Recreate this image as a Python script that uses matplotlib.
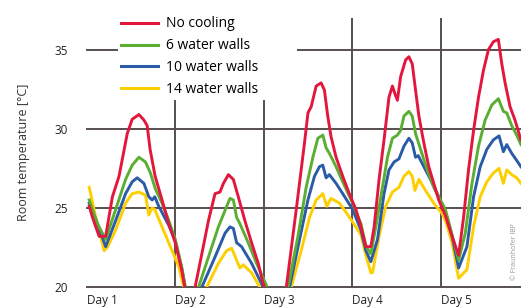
import matplotlib
matplotlib.use("Agg")
import matplotlib.pyplot as plt
from matplotlib.patches import Rectangle

plt.rcParams["font.family"] = ["Open Sans", "DejaVu Sans"]

# time in days (Day 1 = 1.0), temperature in degC
t_red = [1.025, 1.062, 1.137, 1.211, 1.287, 1.362, 1.455, 1.511, 1.587, 1.643, 1.680, 1.713,
         1.770, 1.848, 1.924, 1.998, 2.073, 2.12, 2.18, 2.222, 2.298, 2.373, 2.447, 2.503,
         2.542, 2.598, 2.654, 2.710, 2.784, 2.860, 2.935, 2.991, 3.08, 3.20, 3.253, 3.365,
         3.458, 3.497, 3.534, 3.590, 3.646, 3.683, 3.721, 3.758, 3.815, 3.890, 3.964, 4.039,
         4.096, 4.152, 4.208, 4.245, 4.301, 4.357, 4.413, 4.452, 4.481, 4.508, 4.545, 4.601,
         4.638, 4.676, 4.713, 4.751, 4.807, 4.863, 4.919, 4.975, 5.051, 5.126, 5.200, 5.256,
         5.312, 5.369, 5.425, 5.481, 5.537, 5.593, 5.649, 5.688, 5.725, 5.781, 5.837, 5.904]
no_cooling = [25.1, 24.4, 23.2, 23.2, 25.7, 27.0, 29.7, 30.6, 30.9, 30.55, 30.2, 28.7,
              27.0, 25.5, 24.0, 22.8, 21.0, 19.5, 19.0, 20.0, 22.1, 24.2, 25.9, 26.0,
              26.55, 27.1, 26.8, 25.7, 24.2, 22.8, 21.5, 20.2, 19.0, 19.2, 20.0, 24.9,
              29.1, 31.0, 31.4, 32.7, 32.9, 32.45, 30.8, 29.5, 28.2, 27.0, 25.9, 24.9,
              23.8, 22.55, 22.55, 23.8, 26.8, 29.3, 32.0, 32.7, 32.2, 31.8, 33.3, 34.35,
              34.55, 34.1, 32.45, 30.8, 29.1, 27.6, 26.55, 25.5, 24.5, 23.2, 22.0, 24.4,
              27.4, 29.9, 32.0, 33.7, 35.0, 35.5, 35.65, 34.1, 32.9, 31.4, 30.55, 29.3]

t_green = [1.025, 1.118, 1.211, 1.324, 1.436, 1.511, 1.587, 1.661, 1.717, 1.773, 1.848, 1.924,
           1.998, 2.073, 2.11, 2.18, 2.261, 2.373, 2.485, 2.579, 2.616, 2.654, 2.691, 2.728,
           2.822, 2.916, 3.028, 3.12, 3.22, 3.272, 3.384, 3.477, 3.553, 3.609, 3.665, 3.702,
           3.739, 3.815, 3.890, 4.002, 4.096, 4.152, 4.208, 4.264, 4.339, 4.396, 4.452, 4.508,
           4.545, 4.582, 4.638, 4.676, 4.713, 4.770, 4.845, 4.919, 4.994, 5.051, 5.126, 5.200,
           5.275, 5.351, 5.425, 5.500, 5.575, 5.649, 5.706, 5.744, 5.800, 5.856, 5.904]
water_walls_6 = [25.5, 24.0, 23.0, 24.9, 26.8, 27.7, 28.2, 27.9, 27.2, 26.2, 25.3, 24.2,
                 23.0, 21.2, 20.0, 19.0, 20.0, 21.9, 23.8, 25.1, 25.6, 25.5, 24.4, 24.0,
                 22.8, 21.5, 20.1, 19.0, 19.2, 20.0, 23.2, 26.3, 28.2, 29.4, 29.6, 28.8,
                 28.45, 27.6, 26.65, 25.3, 24.0, 22.6, 22.1, 23.8, 26.3, 28.2, 29.4, 29.6,
                 29.9, 30.8, 31.1, 30.8, 29.7, 28.7, 27.4, 26.3, 25.5, 24.9, 23.3, 21.7,
                 23.4, 26.55, 28.9, 30.55, 31.5, 31.9, 31.1, 31.0, 30.2, 29.6, 29.0]

t_blue = [1.025, 1.118, 1.211, 1.324, 1.436, 1.511, 1.567, 1.643, 1.699, 1.736, 1.766, 1.811,
          1.924, 1.998, 2.073, 2.11, 2.20, 2.298, 2.447, 2.560, 2.616, 2.654, 2.691, 2.747,
          2.860, 2.991, 3.10, 3.23, 3.290, 3.402, 3.497, 3.571, 3.627, 3.665, 3.702, 3.739,
          3.815, 3.890, 4.002, 4.096, 4.152, 4.208, 4.283, 4.357, 4.413, 4.470, 4.526, 4.582,
          4.638, 4.676, 4.713, 4.744, 4.807, 4.882, 4.975, 5.051, 5.126, 5.200, 5.294, 5.369,
          5.444, 5.519, 5.593, 5.657, 5.706, 5.744, 5.800, 5.856, 5.904]
water_walls_10 = [25.3, 24.0, 22.55, 24.2, 25.9, 26.65, 26.9, 26.55, 25.7, 25.5, 25.7, 25.1,
                  23.9, 22.9, 21.1, 20.0, 19.0, 20.0, 21.9, 23.4, 23.8, 23.7, 22.8, 22.55,
                  21.5, 20.0, 19.0, 19.2, 20.0, 23.0, 25.5, 27.0, 27.6, 27.7, 26.9, 27.1,
                  26.55, 25.9, 24.9, 23.6, 22.3, 21.6, 23.0, 25.9, 27.4, 27.9, 28.1, 28.9,
                  29.4, 29.1, 28.2, 28.3, 27.6, 26.8, 25.7, 24.65, 23.2, 21.2, 22.55, 25.7,
                  27.6, 28.7, 29.3, 29.55, 28.55, 29.0, 28.45, 28.0, 27.6]

t_yellow = [1.025, 1.099, 1.193, 1.23, 1.324, 1.436, 1.511, 1.587, 1.661, 1.699, 1.736, 1.766,
            1.848, 1.961, 2.036, 2.092, 2.22, 2.354, 2.485, 2.579, 2.635, 2.691, 2.728, 2.766,
            2.860, 2.953, 3.12, 3.309, 3.421, 3.515, 3.590, 3.665, 3.710, 3.758, 3.852, 3.93,
            4.039, 4.096, 4.152, 4.208, 4.227, 4.301, 4.376, 4.452, 4.526, 4.582, 4.638, 4.676,
            4.706, 4.751, 4.826, 4.919, 5.013, 5.051, 5.126, 5.200, 5.294, 5.369, 5.444, 5.519,
            5.593, 5.657, 5.706, 5.744, 5.800, 5.856, 5.904]
water_walls_14 = [26.3, 24.4, 22.3, 22.5, 23.6, 25.3, 25.9, 26.0, 25.8, 24.55, 25.0, 24.9,
                  23.8, 22.3, 21.3, 20.0, 19.0, 20.0, 21.5, 22.3, 22.45, 21.7, 21.2, 21.4,
                  20.9, 20.0, 19.0, 20.0, 22.3, 24.4, 25.5, 25.9, 25.1, 25.6, 25.3, 24.7,
                  23.8, 23.3, 22.0, 20.9, 20.9, 23.2, 25.1, 26.0, 26.3, 27.0, 27.3, 27.0,
                  26.1, 26.8, 26.1, 25.3, 24.65, 24.2, 22.8, 20.55, 21.1, 23.8, 25.7, 26.65,
                  27.2, 27.5, 26.55, 27.4, 27.1, 26.9, 26.55]

days = [1, 2, 3, 4, 5]
day_labels = ["Day 1", "Day 2", "Day 3", "Day 4", "Day 5"]
temp_ticks = [20, 25, 30, 35]

grid_color = "#574e4e"

fig = plt.figure(figsize=(5.21, 3.07), dpi=100)
ax = fig.add_axes([87 / 521, 20 / 307, 434 / 521, 269 / 307])

for d in days[1:]:
    ax.axvline(d, color=grid_color, lw=1.4, zorder=1)
for v in temp_ticks:
    ax.axhline(v, color=grid_color, lw=1.4, zorder=1, clip_on=False)

# white area behind the legend hides the top of the grid
ax.add_patch(Rectangle((0.071, 0.695), 0.413, 0.4, transform=ax.transAxes,
                       facecolor="white", edgecolor="none", zorder=2, clip_on=False))

ax.plot(t_red, no_cooling, color="#e3173e", lw=2.1, label="No cooling", zorder=6)
ax.plot(t_green, water_walls_6, color="#5aae32", lw=2.1, label="6 water walls", zorder=5)
ax.plot(t_blue, water_walls_10, color="#2b5ba6", lw=2.1, label="10 water walls", zorder=4)
ax.plot(t_yellow, water_walls_14, color="#fdcf00", lw=2.1, label="14 water walls", zorder=3)

ax.set_xlim(1.03, 5.905)
ax.set_ylim(20, 37.0)
for s in ax.spines.values():
    s.set_visible(False)

ax.set_xticks(days)
ax.set_xticklabels(day_labels, ha="left", fontsize=8.5, color="#222222")
ax.set_yticks(temp_ticks)
ax.set_yticklabels([str(v) for v in temp_ticks], fontsize=8.5, color="#222222")
ax.tick_params(axis="both", length=0)
ax.tick_params(axis="y", pad=14)
ax.tick_params(axis="x", pad=5)
ax.xaxis.get_ticklabels()[0].set_x(1.03)
ax.set_ylabel("Room temperature [°C]", fontsize=9, color="#333333", labelpad=17)

leg = fig.legend(loc="upper left", bbox_to_anchor=(111 / 521, 1 - 6 / 307),
                 frameon=False, fontsize=10, handlelength=2.6, handletextpad=0.6,
                 labelspacing=0.5, borderpad=0.25)
for line in leg.get_lines():
    line.set_linewidth(2.2)

fig.text(515 / 521, 1 - 252 / 307, "© Fraunhofer IBP", rotation=90, fontsize=5,
         color="#999999", ha="center", va="center")

fig.savefig("out.png", dpi=100)
